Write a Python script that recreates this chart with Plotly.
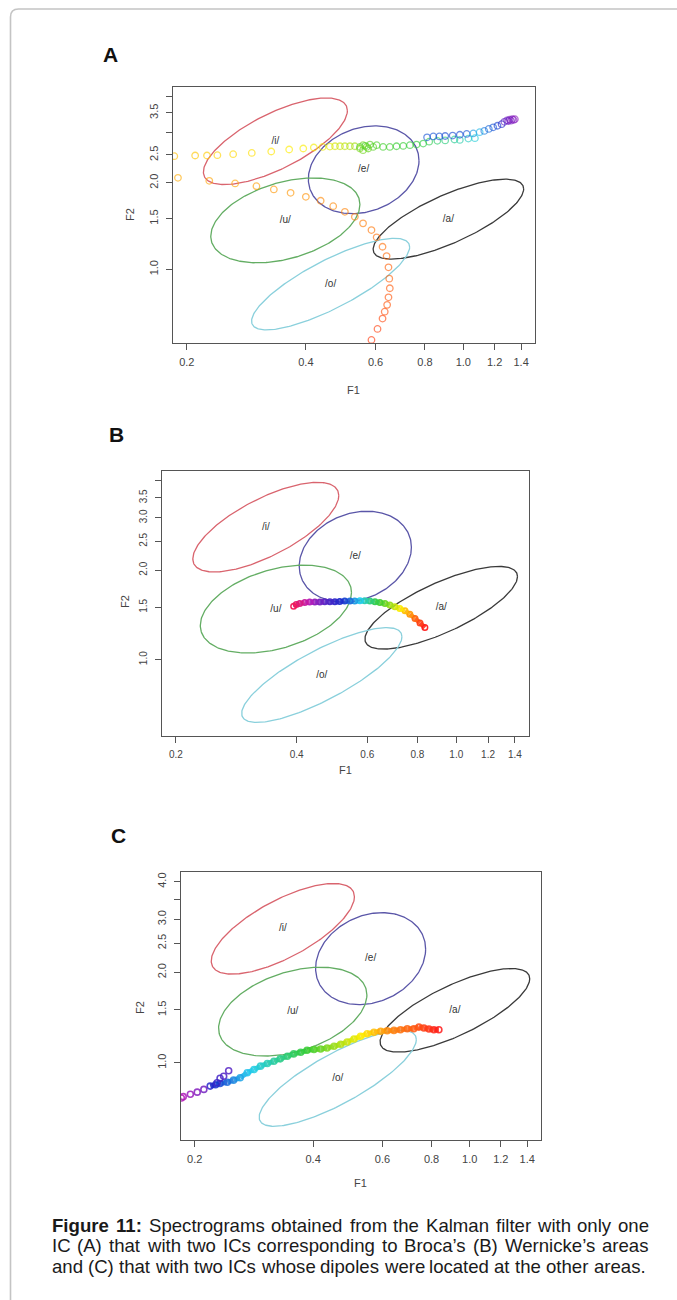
import numpy as np
import plotly.graph_objects as go
from plotly.colors import sample_colorscale

W, H = 677, 1300

# ---------------- data ----------------
vowels = ['/i/', '/e/', '/u/', '/a/', '/o/']
ell_f1 = [0.335, 0.560, 0.355, 0.917, 0.462]      # centre F1
ell_f2 = [2.79, 2.22, 1.48, 1.495, 0.888]         # centre F2
ell_ru = [0.419, 0.322, 0.434, 0.438, 0.460]      # half width (ln units)
ell_rv = [0.347, 0.352, 0.340, 0.320, 0.367]      # half height (ln units)
ell_phase = [45, 78, 68, 41, 36]                  # tilt phase (deg)
ell_colors = ['#d9646e', '#5a56a8', '#63ad63', '#3a3a3a', '#8ad0dc']

x_ticks = [0.2, 0.4, 0.6, 0.8, 1.0, 1.2, 1.4]
x_ticktext = ['0.2', '0.4', '0.6', '0.8', '1.0', '1.2', '1.4']
y_ticks = [1.0, 1.5, 2.0, 2.5, 3.0, 3.5, 4.0]
y_ticktext_a = ['1.0', '1.5', '2.0', '2.5', '', '3.5', '']
y_ticktext_b = ['1.0', '1.5', '2.0', '2.5', '3.0', '3.5', '']
y_ticktext_c = ['1.0', '1.5', '2.0', '2.5', '3.0', '', '4.0']

# Panel A trajectory (F1, F2, rainbow hue)
a_f1 = [0.586, 0.607, 0.625, 0.633, 0.642, 0.647, 0.652, 0.650, 0.647, 0.640,
        0.625, 0.604, 0.586, 0.558, 0.532, 0.502, 0.469, 0.436, 0.400, 0.366,
        0.332, 0.300, 0.265, 0.228, 0.190,
        0.186, 0.210, 0.225, 0.239, 0.262, 0.292, 0.327, 0.363, 0.394, 0.419, 0.441,
        0.460, 0.474, 0.488, 0.502, 0.517, 0.532,
        0.548, 0.558, 0.570, 0.581, 0.592, 0.604, 0.558, 0.575, 0.548, 0.565,
        0.627, 0.652, 0.678, 0.705, 0.733, 0.762, 0.792,
        0.820, 0.860, 0.900, 0.950, 0.980, 1.030, 1.070,
        0.810, 0.840, 0.870, 0.900, 0.940, 0.980, 1.020,
        1.060, 1.100, 1.130, 1.160, 1.190, 1.220, 1.250,
        1.270, 1.290, 1.310, 1.330, 1.350, 1.300, 1.340, 1.320]
a_f2 = [0.568, 0.620, 0.674, 0.712, 0.752, 0.799, 0.859, 0.928, 1.016, 1.112,
        1.198, 1.292, 1.369, 1.445, 1.523, 1.585, 1.659, 1.732, 1.788, 1.846,
        1.896, 1.947, 1.990, 2.032, 2.081,
        2.475, 2.489, 2.489, 2.495, 2.515, 2.541, 2.570, 2.612, 2.633, 2.654, 2.667,
        2.673, 2.681, 2.681, 2.681, 2.681, 2.681,
        2.633, 2.703, 2.667, 2.718, 2.667, 2.703, 2.597, 2.633, 2.667, 2.690,
        2.667, 2.667, 2.681, 2.688, 2.703, 2.718, 2.740,
        2.780, 2.800, 2.810, 2.830, 2.820, 2.850, 2.860,
        2.880, 2.900, 2.900, 2.910, 2.920, 2.940, 2.960,
        2.970, 3.000, 3.030, 3.080, 3.120, 3.160, 3.200,
        3.260, 3.300, 3.320, 3.330, 3.330, 3.280, 3.310, 3.290]
a_hue = [0.03, 0.035, 0.04, 0.045, 0.05, 0.05, 0.055, 0.06, 0.06, 0.065,
         0.07, 0.07, 0.075, 0.08, 0.08, 0.085, 0.09, 0.09, 0.095, 0.10,
         0.10, 0.105, 0.11, 0.11, 0.115,
         0.13, 0.135, 0.14, 0.145, 0.15, 0.155, 0.16, 0.165, 0.17, 0.175, 0.18,
         0.19, 0.20, 0.21, 0.22, 0.23, 0.24,
         0.27, 0.28, 0.29, 0.30, 0.30, 0.31, 0.28, 0.29, 0.30, 0.31,
         0.32, 0.32, 0.33, 0.33, 0.34, 0.34, 0.35,
         0.36, 0.38, 0.40, 0.42, 0.44, 0.46, 0.48,
         0.62, 0.62, 0.62, 0.63, 0.63, 0.63, 0.62,
         0.55, 0.52, 0.58, 0.60, 0.62, 0.64, 0.68,
         0.74, 0.76, 0.77, 0.78, 0.79, 0.75, 0.78, 0.77]

# Panel B trajectory
b_f1 = [0.835, 0.812, 0.789, 0.766, 0.745, 0.723, 0.703, 0.683, 0.664, 0.645,
        0.627, 0.609, 0.591, 0.575, 0.558, 0.543, 0.527, 0.512, 0.498, 0.484,
        0.470, 0.457, 0.444, 0.431, 0.419, 0.407, 0.399, 0.393]
b_f2 = [1.283, 1.330, 1.376, 1.423, 1.460, 1.487, 1.506, 1.526, 1.546, 1.558,
        1.566, 1.574, 1.578, 1.578, 1.574, 1.574, 1.574, 1.570, 1.566, 1.566,
        1.566, 1.562, 1.562, 1.562, 1.558, 1.546, 1.534, 1.514]
b_hue = [0.00, 0.03, 0.06, 0.10, 0.13, 0.17, 0.21, 0.25, 0.29, 0.32,
         0.36, 0.40, 0.45, 0.50, 0.55, 0.60, 0.64, 0.67, 0.69, 0.71,
         0.73, 0.76, 0.79, 0.83, 0.87, 0.91, 0.94, 0.97]

# Panel C trajectory (main path, then branch, then left tail)
c_f1 = [0.835, 0.811, 0.788, 0.765, 0.743, 0.721, 0.694, 0.667, 0.642, 0.617,
        0.594, 0.571, 0.549, 0.528, 0.508, 0.488, 0.470, 0.452, 0.434, 0.418,
        0.402, 0.386, 0.372, 0.357, 0.344, 0.330, 0.318, 0.306, 0.294, 0.283,
        0.272, 0.261, 0.251, 0.242, 0.232, 0.226, 0.219,
        0.228, 0.232, 0.237, 0.244,
        0.211, 0.203, 0.195, 0.187, 0.185]
c_f2 = [1.289, 1.289, 1.296, 1.306, 1.315, 1.299, 1.298, 1.289, 1.282, 1.279,
        1.273, 1.263, 1.250, 1.225, 1.200, 1.173, 1.153, 1.135, 1.121, 1.112,
        1.107, 1.101, 1.084, 1.071, 1.052, 1.031, 1.012, 0.995, 0.975, 0.950,
        0.927, 0.892, 0.876, 0.862, 0.854, 0.846, 0.837,
        0.859, 0.889, 0.903, 0.941,
        0.816, 0.799, 0.786, 0.772, 0.764]
c_hue = [0.00, 0.01, 0.02, 0.03, 0.04, 0.05, 0.06, 0.07, 0.08, 0.09,
         0.11, 0.13, 0.15, 0.17, 0.19, 0.21, 0.23, 0.25, 0.27, 0.29,
         0.31, 0.33, 0.35, 0.37, 0.39, 0.41, 0.43, 0.45, 0.47, 0.49,
         0.51, 0.54, 0.57, 0.60, 0.63, 0.66, 0.68,
         0.70, 0.71, 0.72, 0.73,
         0.76, 0.78, 0.80, 0.82, 0.83]
c_main_len = 37   # points of the continuous ribbon in C

panel_letters = ['A', 'B', 'C']
caption_words = [
    [('Figure', True), ('11:', True), ('Spectrograms', False), ('obtained', False),
     ('from', False), ('the', False), ('Kalman', False), ('filter', False),
     ('with', False), ('only', False), ('one', False)],
    [('IC', False), ('(A)', False), ('that', False), ('with', False), ('two', False),
     ('ICs', False), ('corresponding', False), ('to', False), ('Broca\u2019s', False),
     ('(B)', False), ('Wernicke\u2019s', False), ('areas', False)],
    [('and', False), ('(C)', False), ('that', False), ('with', False), ('two', False),
     ('ICs', False), ('whose', False), ('dipoles', False), ('were', False),
     ('located', False), ('at', False), ('the', False), ('other', False),
     ('areas.', False)],
]
caption_justify = [True, True, False]

# ---------------- styling / layout ----------------
rainbow = [[0.0, '#ff1a1a'], [1/6, '#ffee00'], [2/6, '#33cc33'], [3/6, '#22ccee'],
           [4/6, '#1a2acc'], [5/6, '#b81ab8'], [1.0, '#ff1a40']]

# Arial / Liberation Sans advance widths (1/1000 em)
AW = dict(zip('abcdefghijklmnopqrstuvwxyz',
              [556, 556, 500, 556, 556, 278, 556, 556, 222, 222, 500, 222, 833,
               556, 556, 556, 556, 333, 500, 278, 556, 500, 722, 500, 500, 500]))
AW.update(dict(zip('ABCDEFGHIJKLMNOPQRSTUVWXYZ',
                   [667, 667, 722, 722, 667, 611, 778, 722, 278, 500, 667, 556, 833,
                    722, 778, 667, 778, 722, 667, 611, 722, 667, 944, 667, 667, 611])))
AW.update({'(': 333, ')': 333, '.': 278, ':': 278, '\u2019': 222, ' ': 278,
           '0': 556, '1': 556})
AWB = dict(F=611, i=278, g=611, u=611, r=389, e=556)
AWB.update({'1': 556, ':': 333, ' ': 278})


def text_w(s, size, bold=False):
    tab = AWB if bold else AW
    return sum(tab.get(ch, AW.get(ch, 556)) for ch in s) * size / 1000.0


panels = [
    dict(box=(173, 87, 535, 343), tickfont=11, yticktext=y_ticktext_a,
         f1=(353, 390), f2=(130, 215), letter=(110, 55),
         data=(a_f1, a_f2, a_hue), msize=6.5, mlw=1.3, opacity=0.65, ribbon=0),
    dict(box=(162, 471, 529, 736), tickfont=10, yticktext=y_ticktext_b,
         f1=(345, 770), f2=(125, 602), letter=(117, 435),
         data=(b_f1, b_f2, b_hue), msize=5.5, mlw=1.5, opacity=0.95,
         ribbon=len(b_f1), rw=4.5),
    dict(box=(181, 872, 541, 1140), tickfont=11, yticktext=y_ticktext_c,
         f1=(360, 1183), f2=(140, 1008), letter=(118, 835),
         data=(c_f1, c_f2, c_hue), msize=6, mlw=1.6, opacity=0.85,
         ribbon=c_main_len, rw=5),
]

XR = [np.log10(0.1846), np.log10(1.518)]
YR = [np.log10(0.554), np.log10(4.31)]

fig = go.Figure()
annotations = []
layout = dict(width=W, height=H, margin=dict(l=0, r=0, t=0, b=0),
              paper_bgcolor='white', plot_bgcolor='white', showlegend=False,
              font=dict(family='Liberation Sans, Arial, sans-serif', color='#444'))


def px(x, y):
    return x / W, 1 - y / H


def label(text, x, y, size, color='#444', angle=0, xanchor='center'):
    ax, ay = px(x, y)
    return dict(text=text, x=ax, y=ay, xref='paper', yref='paper', showarrow=False,
                xanchor=xanchor, yanchor='middle', textangle=angle,
                font=dict(size=size, color=color,
                          family='Liberation Sans, Arial, sans-serif'))


t = np.linspace(0, 2 * np.pi, 241)
for k, p in enumerate(panels):
    sfx = '' if k == 0 else str(k + 1)
    xa, ya = 'x' + sfx, 'y' + sfx
    x0, y0, x1, y1 = p['box']
    axis_common = dict(type='log', showgrid=False, zeroline=False, showline=True,
                       mirror=True, linecolor='#555', linewidth=1.2,
                       ticks='outside', ticklen=6, tickwidth=1, tickcolor='#555',
                       tickfont=dict(size=p['tickfont'], color='#444'))
    layout['xaxis' + sfx] = dict(axis_common, domain=[x0 / W, x1 / W], range=XR,
                                 tickvals=x_ticks, ticktext=x_ticktext,
                                 anchor=ya, ticklabelstandoff=3)
    layout['yaxis' + sfx] = dict(axis_common, domain=[1 - y1 / H, 1 - y0 / H], range=YR,
                                 tickvals=y_ticks, ticktext=p['yticktext'],
                                 tickangle=-90, anchor=xa, ticklabelstandoff=4)
    # ellipses
    for i in range(len(vowels)):
        u = np.log(ell_f1[i]) + ell_ru[i] * np.cos(t)
        v = np.log(ell_f2[i]) + ell_rv[i] * np.cos(t - np.deg2rad(ell_phase[i]))
        fig.add_trace(go.Scatter(x=np.exp(u), y=np.exp(v), mode='lines',
                                 line=dict(color=ell_colors[i], width=1.3),
                                 xaxis=xa, yaxis=ya, hoverinfo='skip'))
    fig.add_trace(go.Scatter(x=ell_f1, y=ell_f2, mode='text', text=vowels,
                             textfont=dict(size=10, color='#333'),
                             xaxis=xa, yaxis=ya, hoverinfo='skip'))
    f1s, f2s, hues = p['data']
    # continuous coloured ribbon through consecutive points
    n_rib = p['ribbon']
    if n_rib > 1:
        seg_cols = sample_colorscale(rainbow, [(hues[i] + hues[i + 1]) / 2
                                               for i in range(n_rib - 1)])
        for i in range(n_rib - 1):
            fig.add_trace(go.Scatter(x=f1s[i:i + 2], y=f2s[i:i + 2], mode='lines',
                                     line=dict(color=seg_cols[i], width=p['rw']),
                                     opacity=0.9, xaxis=xa, yaxis=ya, hoverinfo='skip'))
    fig.add_trace(go.Scatter(x=f1s, y=f2s, mode='markers', xaxis=xa, yaxis=ya,
                             marker=dict(symbol='circle-open', size=p['msize'],
                                         color=hues, colorscale=rainbow, cmin=0, cmax=1,
                                         opacity=p['opacity'],
                                         line=dict(width=p['mlw'])),
                             cliponaxis=True))
    # axis titles and panel letter
    annotations.append(label('F1', *p['f1'], size=11))
    annotations.append(label('F2', *p['f2'], size=11, angle=-90))
    annotations.append(label('<b>%s</b>' % panel_letters[k], *p['letter'],
                             size=21, color='#111'))

# caption: justified lines (word by word)
CAP_SIZE = 18.6
cap_left, cap_right = 50, 647
for j, words in enumerate(caption_words):
    widths = [text_w(w, CAP_SIZE, b) for w, b in words]
    if caption_justify[j]:
        gap = (cap_right - cap_left - sum(widths)) / (len(words) - 1)
    else:
        gap = text_w(' ', CAP_SIZE)
    xcur = cap_left
    ycen = 1225 + j * 20.8
    for (w, b), wd in zip(words, widths):
        annotations.append(label(('<b>%s</b>' % w) if b else w, xcur, ycen,
                                 size=CAP_SIZE, color='#1a1a1a', xanchor='left'))
        xcur += wd + gap

# page border (rounded top-left corner)
bx, by, r = 10.5 / W, 1 - 9 / H, 8
border_path = ('M 1,{ty} L {cx1},{ty} Q {lx},{ty} {lx},{cy1} L {lx},0'
               .format(ty=by, cx1=(10.5 + r) / W, lx=bx, cy1=1 - (9 + r) / H))
layout['shapes'] = [dict(type='path', path=border_path, xref='paper', yref='paper',
                         line=dict(color='#c4c4c4', width=1.6))]
layout['annotations'] = annotations
fig.update_layout(**layout)
fig.write_html('out.html')
